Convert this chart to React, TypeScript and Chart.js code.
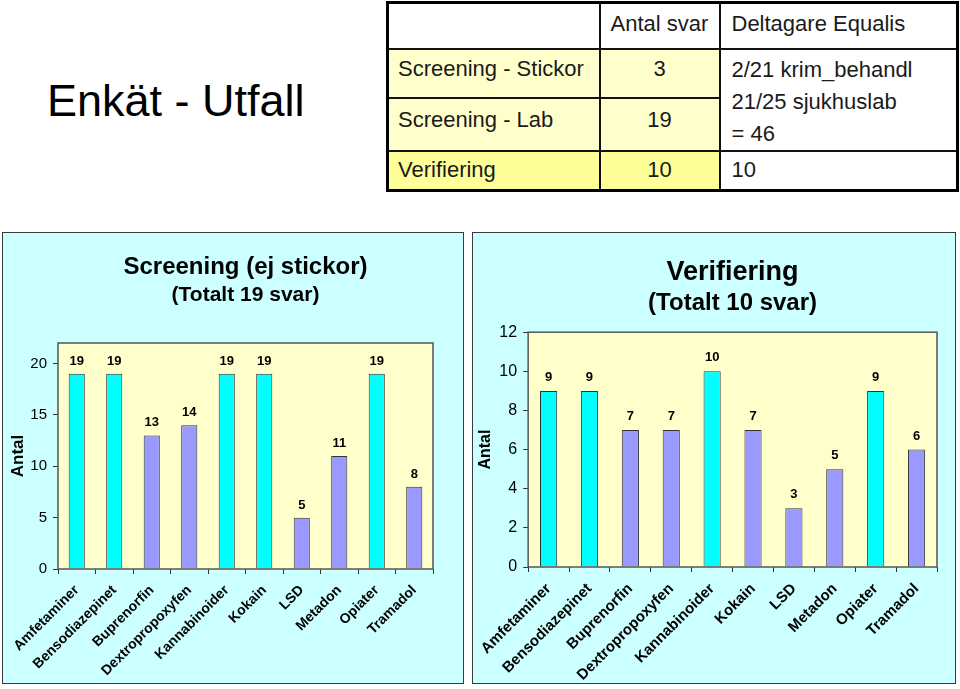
import React, { useEffect, useRef } from "react";
import { Chart, registerables } from "chart.js";

Chart.register(...registerables);

// ---------- data ----------
const drugCategories = [
  "Amfetaminer",
  "Bensodiazepinet",
  "Buprenorfin",
  "Dextropropoxyfen",
  "Kannabinoider",
  "Kokain",
  "LSD",
  "Metadon",
  "Opiater",
  "Tramadol",
];
const screeningCounts = [19, 19, 13, 14, 19, 19, 5, 11, 19, 8];
const verifieringCounts = [9, 9, 7, 7, 10, 7, 3, 5, 9, 6];
const screeningHighlighted = [true, true, false, false, true, true, false, false, true, false];
const verifieringHighlighted = [true, true, false, false, true, false, false, false, true, false];
const screeningYMax = 22;
const screeningYStep = 5;
const verifieringYMax = 12;
const verifieringYStep = 2;

const tableColumns = ["", "Antal svar", "Deltagare Equalis"];
const tableRowLabels = ["Screening - Stickor", "Screening - Lab", "Verifiering"];
const tableRowCounts = [3, 19, 10];
const equalisScreening = ["2/21 krim_behandl", "21/25 sjukhuslab", "= 46"];
const equalisVerifiering = "10";

// ---------- styling ----------
const FONT = "'Liberation Sans', Arial, Helvetica, sans-serif";
const CYAN = "#00FFFF";
const PURPLE = "#9999FF";
const BAR_BORDER = "#333333";
const PLOT_BG = "#FFFFCC";
const PLOT_BORDER = "#555555";
const BOX_BG = "#CCFFFF";

const plotAreaPlugin = {
  id: "plotArea",
  beforeDraw(chart: any) {
    const { ctx, chartArea } = chart;
    ctx.save();
    ctx.fillStyle = PLOT_BG;
    ctx.fillRect(chartArea.left, chartArea.top, chartArea.right - chartArea.left, chartArea.bottom - chartArea.top);
    ctx.restore();
  },
  afterDatasetsDraw(chart: any) {
    const { ctx, chartArea } = chart;
    ctx.save();
    ctx.strokeStyle = PLOT_BORDER;
    ctx.lineWidth = 1.5;
    ctx.strokeRect(chartArea.left, chartArea.top, chartArea.right - chartArea.left, chartArea.bottom - chartArea.top);
    ctx.restore();
  },
};

const valueLabelPlugin = {
  id: "valueLabels",
  afterDatasetsDraw(chart: any, _args: any, opts: any) {
    const { ctx } = chart;
    const meta = chart.getDatasetMeta(0);
    const values = chart.data.datasets[0].data;
    ctx.save();
    ctx.font = `bold ${opts.size || 12}px ${FONT}`;
    ctx.fillStyle = "#000";
    ctx.textAlign = "center";
    ctx.textBaseline = "alphabetic";
    meta.data.forEach((bar: any, i: number) => {
      ctx.fillText(String(values[i]), bar.x, bar.y - (opts.gap || 9));
    });
    ctx.restore();
  },
};

type BarChartProps = {
  width: number;
  height: number;
  values: number[];
  highlighted: boolean[];
  yMax: number;
  yStep: number;
  title: string;
  subtitle: string;
  titleSize: number;
  subtitleSize: number;
  titlePadTop: number;
  subtitlePadTop: number;
  subtitlePadBottom: number;
  padLeft: number;
  padRight: number;
  yWidth: number;
  xHeight: number;
  yTickSize: number;
  xTickSize: number;
  xTickPad: number;
  axisTitleSize: number;
  valueSize: number;
  valueGap: number;
  barPct: number;
};

function BarChart(p: BarChartProps) {
  const ref = useRef<HTMLCanvasElement | null>(null);
  useEffect(() => {
    if (!ref.current) return;
    const chart = new Chart(ref.current, {
      type: "bar",
      data: {
        labels: drugCategories,
        datasets: [
          {
            data: p.values,
            backgroundColor: p.highlighted.map((h) => (h ? CYAN : PURPLE)),
            borderColor: BAR_BORDER,
            borderWidth: 1,
            barPercentage: p.barPct,
            categoryPercentage: 1,
          },
        ],
      },
      options: {
        animation: false,
        responsive: false,
        maintainAspectRatio: false,
        layout: { padding: { left: p.padLeft, right: p.padRight, top: 0, bottom: 0 } },
        plugins: {
          legend: { display: false },
          tooltip: { enabled: false },
          title: {
            display: true,
            text: p.title,
            fullSize: false,
            color: "#000",
            font: { family: FONT, size: p.titleSize, weight: "bold", lineHeight: 1.2 },
            padding: { top: p.titlePadTop, bottom: 0 },
          },
          subtitle: {
            display: true,
            text: p.subtitle,
            fullSize: false,
            color: "#000",
            font: { family: FONT, size: p.subtitleSize, weight: "bold", lineHeight: 1.2 },
            padding: { top: p.subtitlePadTop, bottom: p.subtitlePadBottom },
          },
          valueLabels: { size: p.valueSize, gap: p.valueGap },
        } as any,
        scales: {
          x: {
            grid: { offset: true, drawOnChartArea: false, tickLength: 5, color: "#333", lineWidth: 1 },
            border: { display: false },
            ticks: {
              autoSkip: false,
              maxRotation: 45,
              minRotation: 45,
              color: "#000",
              padding: p.xTickPad,
              font: { family: FONT, size: p.xTickSize, weight: "bold" },
            },
            afterFit: (s: any) => {
              s.height = p.xHeight;
            },
          },
          y: {
            min: 0,
            max: p.yMax,
            grid: { drawOnChartArea: false, tickLength: 5, color: "#333", lineWidth: 1 },
            border: { display: false },
            ticks: {
              stepSize: p.yStep,
              includeBounds: false,
              color: "#000",
              padding: 6,
              font: { family: FONT, size: p.yTickSize },
            },
            title: {
              display: true,
              text: "Antal",
              color: "#000",
              font: { family: FONT, size: p.axisTitleSize, weight: "bold", lineHeight: 1.2 },
              padding: { top: 0, bottom: 0 },
            },
            afterFit: (s: any) => {
              s.width = p.yWidth;
            },
          },
        },
      } as any,
      plugins: [plotAreaPlugin, valueLabelPlugin],
    });
    return () => chart.destroy();
  }, []);
  return <canvas ref={ref} width={p.width} height={p.height} style={{ display: "block", width: p.width, height: p.height }} />;
}

const cellBase: React.CSSProperties = {
  border: "2px solid #111",
  fontFamily: FONT,
  fontSize: 22,
  color: "#1a1a1a",
  padding: 0,
  verticalAlign: "middle",
};

export default function App() {
  const rowBgs = ["#FFFFCC", "#FFFFCC", "#FFFF99"];
  return (
    <div style={{ position: "absolute", left: 0, top: 0, width: 960, height: 689, background: "#fff", overflow: "hidden" }}>
      <div
        style={{
          position: "absolute",
          left: 47,
          top: 78,
          fontFamily: FONT,
          fontSize: 45,
          lineHeight: "45px",
          color: "#000",
          whiteSpace: "nowrap",
        }}
      >
        Enkät - Utfall
      </div>

      <table
        style={{
          position: "absolute",
          left: 386,
          top: 1,
          width: 570,
          height: 190,
          borderCollapse: "collapse",
          border: "3px solid #000",
          tableLayout: "fixed",
        }}
      >
        <colgroup>
          <col style={{ width: 212 }} />
          <col style={{ width: 120 }} />
          <col style={{ width: 238 }} />
        </colgroup>
        <tbody>
          <tr style={{ height: 46 }}>
            <td style={{ ...cellBase, background: "#fff", paddingBottom: 4 }}>{tableColumns[0]}</td>
            <td style={{ ...cellBase, background: "#fff", textAlign: "center", paddingBottom: 4 }}>{tableColumns[1]}</td>
            <td style={{ ...cellBase, background: "#fff", paddingLeft: 11, paddingBottom: 4 }}>{tableColumns[2]}</td>
          </tr>
          <tr style={{ height: 49 }}>
            <td style={{ ...cellBase, background: rowBgs[0], paddingLeft: 9, paddingBottom: 8 }}>{tableRowLabels[0]}</td>
            <td style={{ ...cellBase, background: rowBgs[0], textAlign: "center", paddingBottom: 8 }}>{tableRowCounts[0]}</td>
            <td
              rowSpan={2}
              style={{ ...cellBase, background: "#fff", paddingLeft: 11, verticalAlign: "top", paddingTop: 4, lineHeight: "32px" }}
            >
              {equalisScreening.map((t, i) => (
                <div key={i}>{t}</div>
              ))}
            </td>
          </tr>
          <tr style={{ height: 53 }}>
            <td style={{ ...cellBase, background: rowBgs[1], paddingLeft: 9, paddingBottom: 8 }}>{tableRowLabels[1]}</td>
            <td style={{ ...cellBase, background: rowBgs[1], textAlign: "center", paddingBottom: 8 }}>{tableRowCounts[1]}</td>
          </tr>
          <tr style={{ height: 40 }}>
            <td style={{ ...cellBase, background: rowBgs[2], paddingLeft: 9 }}>{tableRowLabels[2]}</td>
            <td style={{ ...cellBase, background: rowBgs[2], textAlign: "center" }}>{tableRowCounts[2]}</td>
            <td style={{ ...cellBase, background: "#fff", paddingLeft: 11 }}>{equalisVerifiering}</td>
          </tr>
        </tbody>
      </table>

      <div
        style={{
          position: "absolute",
          left: 2,
          top: 232,
          width: 462,
          height: 452,
          boxSizing: "border-box",
          border: "1px solid #3a3a3a",
          background: BOX_BG,
        }}
      >
        <BarChart
          width={460}
          height={450}
          values={screeningCounts}
          highlighted={screeningHighlighted}
          yMax={screeningYMax}
          yStep={screeningYStep}
          title="Screening (ej stickor)"
          subtitle="(Totalt 19 svar)"
          titleSize={24}
          subtitleSize={21}
          titlePadTop={20}
          subtitlePadTop={1}
          subtitlePadBottom={35}
          padLeft={5}
          padRight={30}
          yWidth={50}
          xHeight={114}
          yTickSize={15}
          xTickSize={14}
          xTickPad={8}
          axisTitleSize={17}
          valueSize={13}
          valueGap={9}
          barPct={0.43}
        />
      </div>

      <div
        style={{
          position: "absolute",
          left: 472,
          top: 232,
          width: 484,
          height: 452,
          boxSizing: "border-box",
          border: "1px solid #3a3a3a",
          background: BOX_BG,
        }}
      >
        <BarChart
          width={482}
          height={450}
          values={verifieringCounts}
          highlighted={verifieringHighlighted}
          yMax={verifieringYMax}
          yStep={verifieringYStep}
          title="Verifiering"
          subtitle="(Totalt 10 svar)"
          titleSize={27}
          subtitleSize={24}
          titlePadTop={23}
          subtitlePadTop={1}
          subtitlePadBottom={14}
          padLeft={3}
          padRight={18}
          yWidth={52}
          xHeight={116}
          yTickSize={16}
          xTickSize={15}
          xTickPad={8}
          axisTitleSize={16}
          valueSize={13}
          valueGap={10}
          barPct={0.42}
        />
      </div>
    </div>
  );
}
